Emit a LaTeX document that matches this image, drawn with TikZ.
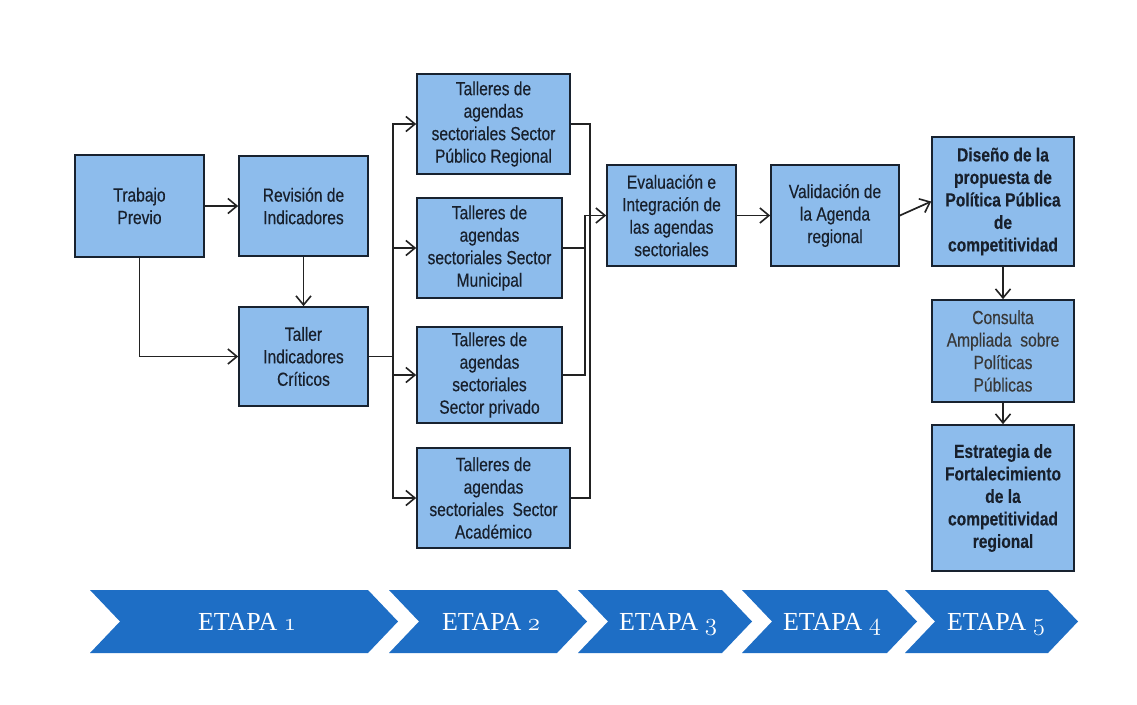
\documentclass[tikz,border=0pt]{standalone}
\usepackage{fontspec}
\setmainfont{Liberation Serif}
\newfontfamily\boxfont[FakeStretch=0.82,FakeBold=0.35]{Liberation Sans}
\newfontfamily\boxfontb[FakeStretch=0.82,FakeBold=0.2]{Liberation Sans Bold}
\usetikzlibrary{arrows.meta}
\definecolor{boxc}{HTML}{8DBCEC}
\definecolor{bordc}{HTML}{18222F}
\definecolor{linec}{HTML}{222222}
\definecolor{chevc}{HTML}{1E6EC5}
\definecolor{txtc}{HTML}{18202C}
\newcommand{\osnum}[1]{{\usefont{OML}{lmm}{b}{it}#1}}
\tikzset{
  box/.style={draw=bordc, fill=boxc, line width=1.7pt, align=center, inner sep=0pt,
    text=txtc, font={\boxfont\fontsize{19}{22.5}\selectfont}},
  boldbox/.style={box, font={\boxfontb\fontsize{19}{22.5}\selectfont}},
  conn/.style={draw=linec, line width=1.7pt},
  arr/.style={conn, -{Straight Barb[length=9pt,width=15pt,line width=1.6pt]}},
  chev/.style={fill=chevc},
  etapa/.style={text=white, anchor=base, inner sep=0pt, font={\fontsize{26}{30}\selectfont}}
}
\begin{document}
\begin{tikzpicture}[x=1pt,y=-1pt]
\useasboundingbox (0,0) rectangle (1137,704);
\fill[white] (0,0) rectangle (1137,704);

% boxes
\node[box, minimum width=129pt, minimum height=102pt] (trab) at (139.5,206) {Trabajo\\Previo};
\node[box, minimum width=129pt, minimum height=100pt] (rev) at (303.5,206) {Revisión de\\Indicadores};
\node[box, minimum width=129pt, minimum height=99pt] (taller) at (303.5,356.5) {Taller\\Indicadores\\Críticos};

\node[box, minimum width=153pt, minimum height=100pt] (pub) at (493.5,124) {Talleres de\\agendas\\sectoriales Sector\\Público Regional};
\node[box, minimum width=145pt, minimum height=100pt] (mun) at (489.5,248) {Talleres de\\agendas\\sectoriales Sector\\Municipal};
\node[box, minimum width=145pt, minimum height=96pt] (priv) at (489.5,375) {Talleres de\\agendas\\sectoriales\\Sector privado};
\node[box, minimum width=153pt, minimum height=100pt] (acad) at (493.5,498) {Talleres de\\agendas\\sectoriales\ \ Sector\\Académico};

\node[box, minimum width=129pt, minimum height=101pt] (eval) at (671.5,215.5) {Evaluación e\\Integración de\\las agendas\\sectoriales};
\node[box, minimum width=128pt, minimum height=101pt] (valid) at (835,215.5) {Validación de\\la Agenda\\regional};

\node[boldbox, minimum width=142pt, minimum height=129pt] (dis) at (1003,201.5) {Diseño de la\\propuesta de\\Política Pública\\de\\competitividad};
\node[box, minimum width=142pt, minimum height=102pt, text=black!78] (cons) at (1003,351) {Consulta\\Ampliada\ \ sobre\\Políticas\\Públicas};
\node[boldbox, minimum width=142pt, minimum height=146pt] (estr) at (1003,498) {Estrategia de\\Fortalecimiento\\de la\\competitividad\\regional};

% connectors
\draw[arr] (trab.east) -- (trab.east -| rev.west);
\draw[arr] (trab.south) |- (taller.west);
\draw[arr] (rev.south) -- (taller.north);

\draw[arr] (taller.east) -- ++(24,0) |- (pub.west);
\draw[arr] (taller.east) -- ++(24,0) |- (mun.west);
\draw[arr] (taller.east) -- ++(24,0) |- (priv.west);
\draw[arr] (taller.east) -- ++(24,0) |- (acad.west);

\draw[conn] (pub.east) -- ++(19,0) |- (acad.east);
\draw[conn] (mun.east) -- ++(21,0);
\draw[arr] (priv.east) -- ++(22,0) |- (eval.west);

\draw[arr] (eval.east) -- (valid.west);
\draw[arr] (valid.east) -- (dis.west);
\draw[arr] (dis.south) -- (cons.north);
\draw[arr] (cons.south) -- (cons.south |- estr.north);

% chevrons
\fill[chev] (90,590) -- (368,590) -- (398,621.5) -- (368,653) -- (90,653) -- (120,621.5) -- cycle;
\fill[chev] (389,590) -- (557,590) -- (587,621.5) -- (557,653) -- (389,653) -- (419,621.5) -- cycle;
\fill[chev] (578,590) -- (722,590) -- (752,621.5) -- (722,653) -- (578,653) -- (608,621.5) -- cycle;
\fill[chev] (742,590) -- (887,590) -- (917,621.5) -- (887,653) -- (742,653) -- (772,621.5) -- cycle;
\fill[chev] (905,590) -- (1048,590) -- (1078,621.5) -- (1048,653) -- (905,653) -- (935,621.5) -- cycle;

\node[etapa] (e1) at (247,630) {ETAPA \osnum{1}};
\node[etapa] (e2) at (491,630) {ETAPA \osnum{2}};
\node[etapa] (e3) at (668,630) {ETAPA \osnum{3}};
\node[etapa] (e4) at (832,630) {ETAPA \osnum{4}};
\node[etapa] (e5) at (996,630) {ETAPA \osnum{5}};
\end{tikzpicture}
\end{document}
